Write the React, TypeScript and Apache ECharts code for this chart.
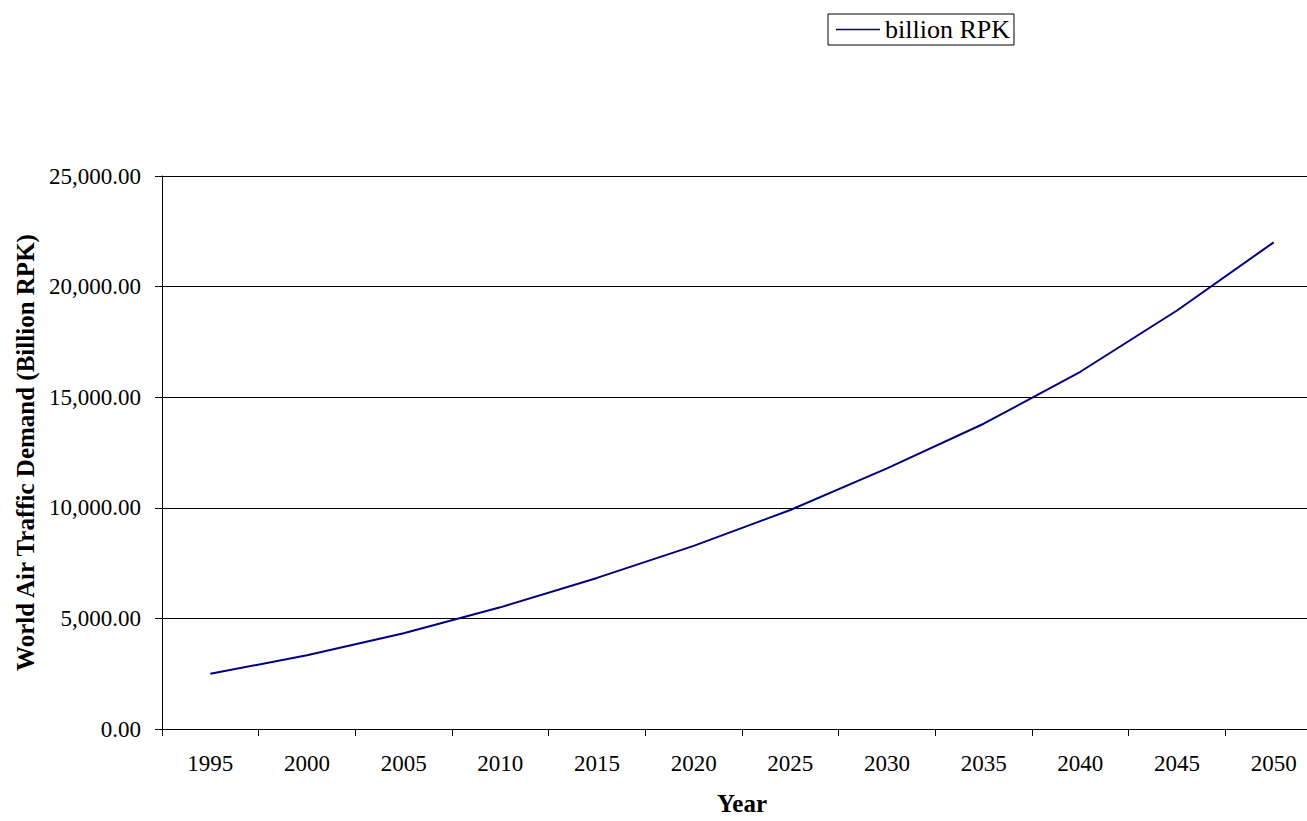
import React, { useEffect, useRef } from "react";
import * as echarts from "echarts";

const years = ["1995", "2000", "2005", "2010", "2015", "2020", "2025", "2030", "2035", "2040", "2045", "2050"];
const rpk = [2500, 3330, 4330, 5500, 6830, 8280, 9900, 11780, 13800, 16150, 18920, 22000];
const seriesName = "billion RPK";
const yTitle = "World Air Traffic Demand (Billion RPK)";
const xTitle = "Year";

const FONT = "'Liberation Serif', 'Times New Roman', serif";

export default function App() {
  const ref = useRef<HTMLDivElement>(null);
  useEffect(() => {
    if (!ref.current) return;
    const chart = echarts.init(ref.current, undefined, { renderer: "svg" });
    chart.setOption({
      animation: false,
      backgroundColor: "#ffffff",
      textStyle: { fontFamily: FONT, color: "#000" },
      legend: {
        left: 828,
        top: 14,
        padding: [2, 4, 2, 8],
        borderColor: "#000",
        borderWidth: 1,
        itemWidth: 44,
        itemHeight: 14,
        itemGap: 4,
        textStyle: { fontFamily: FONT, fontSize: 26, lineHeight: 27, color: "#000" },
        data: [{ name: seriesName, icon: "path://M0,7 L44,7 L44,8.3 L0,8.3 Z" }],
      },
      grid: { left: 162, right: 0, top: 176, bottom: 92, containLabel: false },
      xAxis: {
        type: "category",
        data: years,
        boundaryGap: true,
        name: xTitle,
        nameLocation: "middle",
        nameGap: 62,
        nameTextStyle: { fontFamily: FONT, fontSize: 25, fontWeight: "bold", color: "#000" },
        axisLine: { lineStyle: { color: "#000", width: 1 } },
        axisTick: { show: true, alignWithLabel: false, length: 7, lineStyle: { color: "#000" } },
        axisLabel: { fontFamily: FONT, fontSize: 23, color: "#000", margin: 23 },
        splitLine: { show: false },
      },
      yAxis: {
        type: "value",
        min: 0,
        max: 25000,
        interval: 5000,
        name: yTitle,
        nameLocation: "middle",
        nameGap: 124,
        nameRotate: 90,
        nameTextStyle: { fontFamily: FONT, fontSize: 25, fontWeight: "bold", color: "#000" },
        axisLine: { show: true, lineStyle: { color: "#000", width: 1 } },
        axisTick: { show: true, length: 7, lineStyle: { color: "#000" } },
        axisLabel: {
          fontFamily: FONT,
          fontSize: 23,
          color: "#000",
          margin: 21,
          formatter: (v: number) =>
            v.toLocaleString("en-US", { minimumFractionDigits: 2, maximumFractionDigits: 2 }),
        },
        splitLine: { show: true, lineStyle: { color: "#000", width: 1 } },
      },
      series: [
        {
          name: seriesName,
          type: "line",
          data: rpk,
          symbol: "none",
          smooth: false,
          lineStyle: { color: "#000080", width: 2 },
          itemStyle: { color: "#000080" },
        },
      ],
    });
    return () => chart.dispose();
  }, []);
  return (
    <div
      style={{ position: "fixed", left: 0, top: 0, width: 1307, height: 821, overflow: "hidden", background: "#fff" }}
    >
      <div ref={ref} style={{ width: 1322, height: 821 }} />
    </div>
  );
}
